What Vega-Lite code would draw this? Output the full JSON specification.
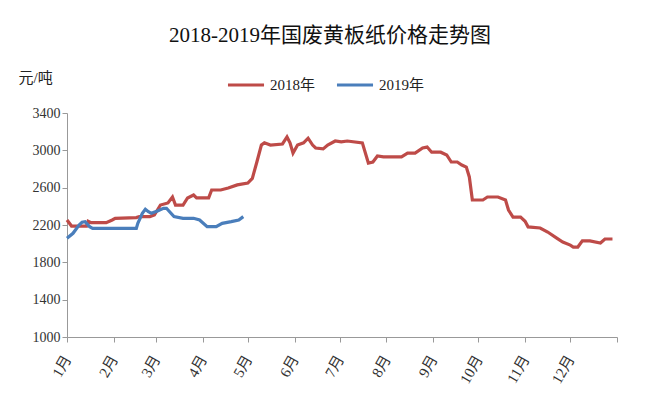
{
  "$schema": "https://vega.github.io/schema/vega-lite/v6.json",
  "autosize": {"type": "none"},
  "width": 550,
  "height": 224,
  "padding": {"left": 67, "top": 113, "right": 32, "bottom": 60},
  "background": "white",
  "title": {
    "text": "2018-2019年国废黄板纸价格走势图",
    "font": "Liberation Serif, Noto Sans CJK SC",
    "fontSize": 21,
    "fontWeight": "normal",
    "color": "#111",
    "anchor": "middle",
    "frame": "group",
    "dx": -12,
    "offset": 19
  },
  "config": {
    "view": {"stroke": null},
    "font": "Liberation Serif, Noto Sans CJK SC"
  },
  "datasets": {
    "prices": [
      {"date": "2018-01-01", "year": "2018年", "price": 2254},
      {"date": "2018-01-04", "year": "2018年", "price": 2189},
      {"date": "2018-01-14", "year": "2018年", "price": 2189},
      {"date": "2018-01-15", "year": "2018年", "price": 2240},
      {"date": "2018-01-17", "year": "2018年", "price": 2225},
      {"date": "2018-01-27", "year": "2018年", "price": 2225},
      {"date": "2018-01-31", "year": "2018年", "price": 2254},
      {"date": "2018-02-02", "year": "2018年", "price": 2272},
      {"date": "2018-02-16", "year": "2018年", "price": 2279},
      {"date": "2018-02-18", "year": "2018年", "price": 2290},
      {"date": "2018-02-25", "year": "2018年", "price": 2290},
      {"date": "2018-02-28", "year": "2018年", "price": 2307},
      {"date": "2018-03-04", "year": "2018年", "price": 2414},
      {"date": "2018-03-09", "year": "2018年", "price": 2436},
      {"date": "2018-03-12", "year": "2018年", "price": 2500},
      {"date": "2018-03-14", "year": "2018年", "price": 2414},
      {"date": "2018-03-19", "year": "2018年", "price": 2414},
      {"date": "2018-03-22", "year": "2018年", "price": 2490},
      {"date": "2018-03-26", "year": "2018年", "price": 2521},
      {"date": "2018-03-28", "year": "2018年", "price": 2490},
      {"date": "2018-04-05", "year": "2018年", "price": 2490},
      {"date": "2018-04-07", "year": "2018年", "price": 2575},
      {"date": "2018-04-13", "year": "2018年", "price": 2575},
      {"date": "2018-04-18", "year": "2018年", "price": 2596},
      {"date": "2018-04-24", "year": "2018年", "price": 2630},
      {"date": "2018-05-01", "year": "2018年", "price": 2650},
      {"date": "2018-05-04", "year": "2018年", "price": 2700},
      {"date": "2018-05-07", "year": "2018年", "price": 2875},
      {"date": "2018-05-10", "year": "2018年", "price": 3057},
      {"date": "2018-05-12", "year": "2018年", "price": 3080},
      {"date": "2018-05-16", "year": "2018年", "price": 3057},
      {"date": "2018-05-24", "year": "2018年", "price": 3068},
      {"date": "2018-05-27", "year": "2018年", "price": 3143},
      {"date": "2018-05-29", "year": "2018年", "price": 3080},
      {"date": "2018-05-31", "year": "2018年", "price": 2970},
      {"date": "2018-06-03", "year": "2018年", "price": 3057},
      {"date": "2018-06-07", "year": "2018年", "price": 3080},
      {"date": "2018-06-10", "year": "2018年", "price": 3130},
      {"date": "2018-06-13", "year": "2018年", "price": 3057},
      {"date": "2018-06-15", "year": "2018年", "price": 3025},
      {"date": "2018-06-20", "year": "2018年", "price": 3015},
      {"date": "2018-06-23", "year": "2018年", "price": 3057},
      {"date": "2018-06-28", "year": "2018年", "price": 3100},
      {"date": "2018-07-02", "year": "2018年", "price": 3090},
      {"date": "2018-07-06", "year": "2018年", "price": 3100},
      {"date": "2018-07-16", "year": "2018年", "price": 3080},
      {"date": "2018-07-20", "year": "2018年", "price": 2864},
      {"date": "2018-07-23", "year": "2018年", "price": 2875},
      {"date": "2018-07-26", "year": "2018年", "price": 2940},
      {"date": "2018-07-30", "year": "2018年", "price": 2930},
      {"date": "2018-08-11", "year": "2018年", "price": 2930},
      {"date": "2018-08-15", "year": "2018年", "price": 2970},
      {"date": "2018-08-20", "year": "2018年", "price": 2970},
      {"date": "2018-08-25", "year": "2018年", "price": 3025},
      {"date": "2018-08-28", "year": "2018年", "price": 3035},
      {"date": "2018-08-31", "year": "2018年", "price": 2980},
      {"date": "2018-09-06", "year": "2018年", "price": 2980},
      {"date": "2018-09-10", "year": "2018年", "price": 2950},
      {"date": "2018-09-13", "year": "2018年", "price": 2875},
      {"date": "2018-09-17", "year": "2018年", "price": 2875},
      {"date": "2018-09-20", "year": "2018年", "price": 2843},
      {"date": "2018-09-23", "year": "2018年", "price": 2820},
      {"date": "2018-09-25", "year": "2018年", "price": 2715},
      {"date": "2018-09-27", "year": "2018年", "price": 2468},
      {"date": "2018-10-04", "year": "2018年", "price": 2468},
      {"date": "2018-10-07", "year": "2018年", "price": 2500},
      {"date": "2018-10-14", "year": "2018年", "price": 2500},
      {"date": "2018-10-19", "year": "2018年", "price": 2468},
      {"date": "2018-10-21", "year": "2018年", "price": 2360},
      {"date": "2018-10-24", "year": "2018年", "price": 2285},
      {"date": "2018-10-29", "year": "2018年", "price": 2285},
      {"date": "2018-11-01", "year": "2018年", "price": 2240},
      {"date": "2018-11-03", "year": "2018年", "price": 2180},
      {"date": "2018-11-11", "year": "2018年", "price": 2168},
      {"date": "2018-11-16", "year": "2018年", "price": 2125},
      {"date": "2018-11-22", "year": "2018年", "price": 2060},
      {"date": "2018-11-26", "year": "2018年", "price": 2018},
      {"date": "2018-12-01", "year": "2018年", "price": 1985},
      {"date": "2018-12-03", "year": "2018年", "price": 1964},
      {"date": "2018-12-06", "year": "2018年", "price": 1964},
      {"date": "2018-12-09", "year": "2018年", "price": 2030},
      {"date": "2018-12-14", "year": "2018年", "price": 2030},
      {"date": "2018-12-21", "year": "2018年", "price": 2007},
      {"date": "2018-12-24", "year": "2018年", "price": 2050},
      {"date": "2018-12-29", "year": "2018年", "price": 2050},
      {"date": "2018-01-01", "year": "2019年", "price": 2057},
      {"date": "2018-01-05", "year": "2019年", "price": 2111},
      {"date": "2018-01-09", "year": "2019年", "price": 2200},
      {"date": "2018-01-11", "year": "2019年", "price": 2229},
      {"date": "2018-01-13", "year": "2019年", "price": 2236},
      {"date": "2018-01-16", "year": "2019年", "price": 2182},
      {"date": "2018-01-18", "year": "2019年", "price": 2164},
      {"date": "2018-02-16", "year": "2019年", "price": 2164},
      {"date": "2018-02-17", "year": "2019年", "price": 2218},
      {"date": "2018-02-20", "year": "2019年", "price": 2325},
      {"date": "2018-02-22", "year": "2019年", "price": 2368},
      {"date": "2018-02-24", "year": "2019年", "price": 2343},
      {"date": "2018-02-26", "year": "2019年", "price": 2325},
      {"date": "2018-03-02", "year": "2019年", "price": 2350},
      {"date": "2018-03-06", "year": "2019年", "price": 2379},
      {"date": "2018-03-08", "year": "2019年", "price": 2379},
      {"date": "2018-03-13", "year": "2019年", "price": 2290},
      {"date": "2018-03-19", "year": "2019年", "price": 2272},
      {"date": "2018-03-26", "year": "2019年", "price": 2272},
      {"date": "2018-03-30", "year": "2019年", "price": 2254},
      {"date": "2018-04-04", "year": "2019年", "price": 2182},
      {"date": "2018-04-10", "year": "2019年", "price": 2182},
      {"date": "2018-04-14", "year": "2019年", "price": 2218},
      {"date": "2018-04-20", "year": "2019年", "price": 2236},
      {"date": "2018-04-25", "year": "2019年", "price": 2254},
      {"date": "2018-04-28", "year": "2019年", "price": 2290}
    ]
  },
  "data": {"name": "prices"},
  "mark": {"type": "line", "strokeWidth": 3.2, "interpolate": "linear"},
  "encoding": {
    "x": {
      "field": "date",
      "type": "temporal",
      "scale": {"type": "utc", "domain": ["2018-01-01", "2019-01-01"]},
      "axis": {
        "title": null,
        "format": "%-m月",
        "tickCount": {"interval": "month", "step": 1},
        "labelExpr": "utcyear(datum.value) == 2019 ? '' : datum.label",
        "labelAngle": -60,
        "labelAlign": "right",
        "labelBaseline": "middle",
        "labelFontSize": 15,
        "labelColor": "#333",
        "labelPadding": 14,
        "labelFlush": false,
        "labelOverlap": false,
        "tickSize": 5,
        "tickColor": "#999",
        "domainColor": "#999",
        "grid": false
      }
    },
    "y": {
      "field": "price",
      "type": "quantitative",
      "scale": {"domain": [1000, 3400], "zero": false, "nice": false},
      "axis": {
        "values": [1000, 1400, 1800, 2200, 2600, 3000, 3400],
        "format": "d",
        "labelFontSize": 14,
        "labelColor": "#333",
        "tickSize": 5,
        "tickColor": "#999",
        "domainColor": "#999",
        "grid": false,
        "title": "元/吨",
        "titleAngle": 0,
        "titleFontSize": 15,
        "titleFontWeight": "normal",
        "titleColor": "#222",
        "titleAlign": "left",
        "titleBaseline": "middle",
        "titleX": -49,
        "titleY": -36
      }
    },
    "color": {
      "field": "year",
      "type": "nominal",
      "scale": {"domain": ["2018年", "2019年"], "range": ["#BE4B48", "#4A7EBB"]},
      "legend": {
        "title": null,
        "orient": "none",
        "direction": "horizontal",
        "legendX": 159,
        "legendY": -48,
        "symbolType": "stroke",
        "symbolStrokeWidth": 3,
        "symbolSize": 1300,
        "labelFontSize": 15,
        "labelColor": "#222",
        "labelOffset": 4,
        "columnPadding": 14
      }
    }
  }
}
